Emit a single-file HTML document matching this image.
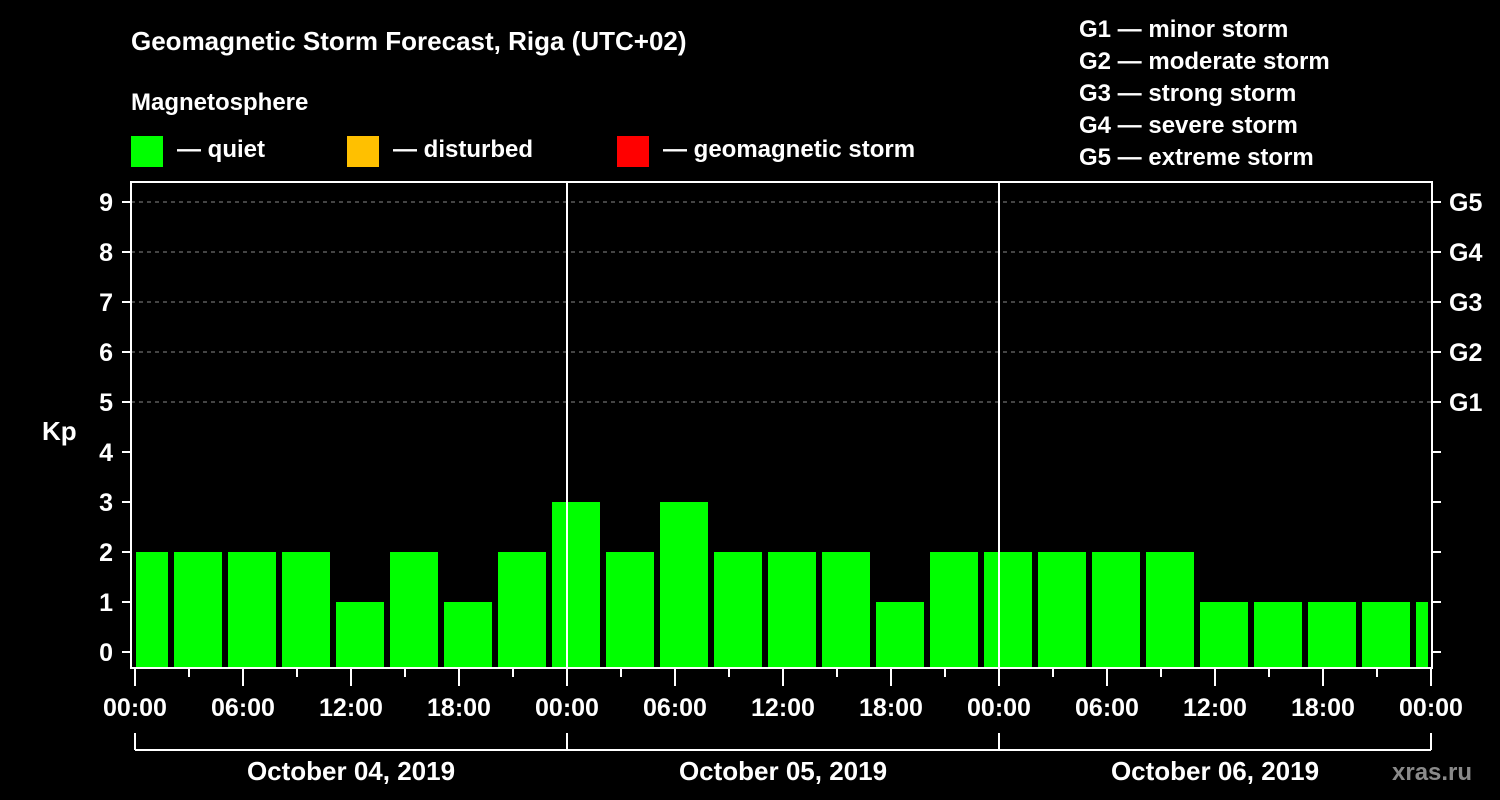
<!DOCTYPE html>
<html><head><meta charset="utf-8"><style>
body{margin:0;background:#000;width:1500px;height:800px;overflow:hidden}
svg{display:block}
text{font-family:"Liberation Sans",sans-serif;font-weight:bold;fill:#fff}
</style></head><body>
<svg id="c" width="1500" height="800">
<text x="131" y="50" font-size="26">Geomagnetic Storm Forecast, Riga (UTC+02)</text>
<text x="131" y="110" font-size="24">Magnetosphere</text>
<g><rect x="131" y="136" width="32" height="31" fill="#00ff00"/><text x="177" y="157" font-size="24">— quiet</text></g>
<g><rect x="347" y="136" width="32" height="31" fill="#ffc000"/><text x="393" y="157" font-size="24">— disturbed</text></g>
<g><rect x="617" y="136" width="32" height="31" fill="#ff0000"/><text x="663" y="157" font-size="24">— geomagnetic storm</text></g>
<g font-size="24">
<text x="1079" y="37">G1 — minor storm</text>
<text x="1079" y="69">G2 — moderate storm</text>
<text x="1079" y="101">G3 — strong storm</text>
<text x="1079" y="133">G4 — severe storm</text>
<text x="1079" y="165">G5 — extreme storm</text>
</g>
<text x="42" y="440" font-size="26">Kp</text>
<text x="1392" y="780" font-size="24" fill="#888" style="fill:#8a8a8a">xras.ru</text>
<g id="grid"></g><g id="bars"></g><g id="axes"></g>
</svg>
<script>
const kpValues=[2,2,2,2,1,2,1,2,3,2,3,2,2,2,1,2,2,2,2,2,1,1,1,1,1];
const barStartHours=[-1,2,5,8,11,14,17,20,23,26,29,32,35,38,41,44,47,50,53,56,59,62,65,68,71];
const tickLabels=["00:00","06:00","12:00","18:00"];
const dayLabels=["October 04, 2019","October 05, 2019","October 06, 2019"];
const gLabels=["G1","G2","G3","G4","G5"];
const NS="http://www.w3.org/2000/svg";
const X=h=>135+18*h, Y=k=>652-50*k;
const L=131,R=1432,T=182,B=668;
function mk(p,tag,a){const e=document.createElementNS(NS,tag);for(const k in a)e.setAttribute(k,a[k]);p.appendChild(e);return e;}
const grid=document.getElementById('grid'),bars=document.getElementById('bars'),axes=document.getElementById('axes');
for(let k=5;k<=9;k++){const g=mk(grid,'line',{x1:L,x2:R,y1:Y(k),y2:Y(k),stroke:'#888','stroke-dasharray':'4,4','stroke-width':1});

}
kpValues.forEach((v,i)=>{const s=barStartHours[i];let x1=Math.max(X(s)+3,136),x2=Math.min(X(s+3)-3,1428);
const c=v>=5?'#ff0000':(v>=4?'#ffc000':'#00ff00');
const r=mk(bars,'rect',{x:x1,y:Y(v),width:x2-x1,height:B-Y(v),fill:c});

});
mk(axes,'rect',{x:L,y:T,width:R-L,height:B-T,fill:'none',stroke:'#fff','stroke-width':2});
[24,48].forEach(h=>mk(axes,'line',{x1:X(h),x2:X(h),y1:T,y2:B,stroke:'#fff','stroke-width':2}));
for(let k=0;k<=9;k++){
mk(axes,'line',{x1:122,x2:L,y1:Y(k),y2:Y(k),stroke:'#fff','stroke-width':2});
mk(axes,'line',{x1:R,x2:1441,y1:Y(k),y2:Y(k),stroke:'#fff','stroke-width':2});
const t=mk(axes,'text',{x:113,y:Y(k)+9,'text-anchor':'end','font-size':25});t.textContent=k;


if(k>=5){const g=mk(axes,'text',{x:1449,y:Y(k)+9,'font-size':25});g.textContent=gLabels[k-5];

}}
for(let h=0;h<=72;h+=3){mk(axes,'line',{x1:X(h),x2:X(h),y1:B,y2:h%6==0?686:677,stroke:'#fff','stroke-width':2});}
for(let h=0;h<=72;h+=6){const t=mk(axes,'text',{x:X(h),y:716,'text-anchor':'middle','font-size':25});t.textContent=tickLabels[(h%24)/6];

}
mk(axes,'line',{x1:X(0),x2:X(72),y1:750,y2:750,stroke:'#fff','stroke-width':2});
for(let d=0;d<=3;d++)mk(axes,'line',{x1:X(24*d),x2:X(24*d),y1:733,y2:750,stroke:'#fff','stroke-width':2});
dayLabels.forEach((s,i)=>{const t=mk(axes,'text',{x:X(24*i+12),y:780,'text-anchor':'middle','font-size':26});t.textContent=s;

});
</script>
</body></html>
